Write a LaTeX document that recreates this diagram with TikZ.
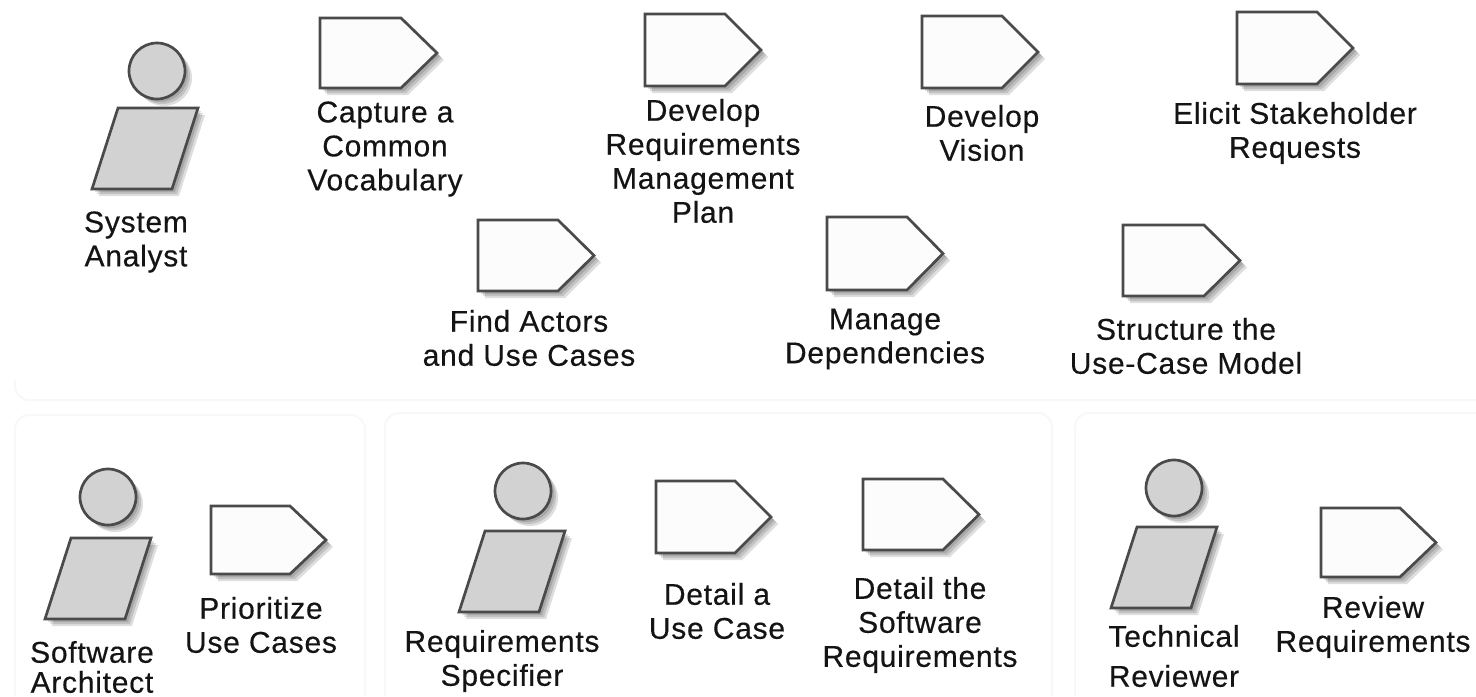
\documentclass[tikz,border=0pt]{standalone}
\usepackage{fontspec}
\setmainfont{Liberation Sans}
\definecolor{figfill}{HTML}{D2D2D2}
\definecolor{figline}{HTML}{4A4A4A}
\definecolor{taskfill}{HTML}{FCFCFC}
\definecolor{panelline}{HTML}{F8F8F8}
\tikzset{
  x=0.5pt,y=-0.5pt,
  figshape/.style={draw=figline,line width=1.35pt,fill=figfill,line join=miter},
  taskshape/.style={draw=figline,line width=1.35pt,fill=taskfill,line join=miter},
  softshadow/.style={fill=black,draw=none,fill opacity=0.13},
  panel/.style={draw=panelline,line width=1pt,rounded corners=7pt},
  lbl/.style={align=center,font=\fontsize{15}{17}\selectfont\addfontfeature{LetterSpace=2.5,FakeBold=0.4},text=black!92,inner sep=0pt,anchor=center},
  lblnarrow/.style={lbl,font=\fontsize{15}{15}\selectfont\addfontfeature{LetterSpace=2.5,FakeBold=0.4}},
  lblwide/.style={lbl,font=\fontsize{15}{20}\selectfont\addfontfeature{LetterSpace=2.5,FakeBold=0.4}},
}
% #1 name, #2 head x, #3 head y, #4 top-left x, #5 top y (parallelogram width 80, height 82, slant 26)
\newcommand{\actorfig}[5]{%
  \foreach \d in {3,5,7}{
    \fill[softshadow] ({#2+\d},{#3+\d}) circle[radius=28];
    \fill[softshadow] ({#4+\d},{#5+\d}) -- ({#4+80+\d},{#5+\d}) -- ({#4+54+\d},{#5+81+\d}) -- ({#4-26+\d},{#5+81+\d}) -- cycle;
  }
  \draw[figshape] (#2,#3) circle[radius=28];
  \draw[figshape] (#4,#5) -- ({#4+80},#5) -- ({#4+54},{#5+81}) -- ({#4-26},{#5+81}) -- cycle;
  \coordinate (#1) at (#2,#3);
}
% #1 name, #2 left, #3 top, #4 bottom, #5 tip x
\newcommand{\taskfig}[5]{%
  \foreach \d in {3,5,7}{
    \fill[softshadow] ({#2+\d},{#3+\d}) -- ({#5-36+\d},{#3+\d}) -- ({#5+\d},{(#3+#4)/2+\d}) -- ({#5-36+\d},{#4+\d}) -- ({#2+\d},{#4+\d}) -- cycle;
  }
  \draw[taskshape] (#2,#3) -- ({#5-36},#3) -- (#5,{(#3+#4)/2}) -- ({#5-36},#4) -- (#2,#4) -- cycle;
  \coordinate (#1) at (#2,#3);
}
\begin{document}
\begin{tikzpicture}
\useasboundingbox (0,0) rectangle (1476,696);
\fill[white] (0,0) rectangle (1476,696);
% panels
\draw[panel] (15,380) |- (1476,400);
\draw[panel] (15,696) |- (365,415) -- (365,696);
\draw[panel] (385,696) |- (1052,413) -- (1052,696);
\draw[panel] (1075,696) |- (1490,413);
% actors
\actorfig{a1}{157}{71}{118}{108}
\actorfig{a2}{108}{497}{71}{538}
\actorfig{a3}{523}{491}{485}{531}
\actorfig{a4}{1174}{488}{1137}{527}
% tasks
\taskfig{t1}{320}{18}{88}{437}
\taskfig{t2}{645}{14}{86}{761}
\taskfig{t3}{922}{16}{88}{1038}
\taskfig{t4}{1237}{12}{84}{1353}
\taskfig{t5}{478}{220}{291}{594}
\taskfig{t6}{827}{217}{290}{943}
\taskfig{t7}{1123}{225}{296}{1240}
\taskfig{t8}{211}{506}{574}{326}
\taskfig{t9}{656}{481}{553}{771}
\taskfig{t10}{863}{479}{550}{979}
\taskfig{t11}{1321}{508}{577}{1436}
% labels
\node[lbl] (la1) at (136,242) {System\\Analyst};
\node[lblnarrow] (la2) at (92,667) {Software\\Architect};
\node[lbl] (la3) at (502,661) {Requirements\\Specifier};
\node[lblwide] (la4) at (1174,656) {Technical\\Reviewer};
\node[lbl] (l1) at (385,149) {Capture a\\Common\\Vocabulary};
\node[lbl] (l2) at (703,161) {Develop\\Requirements\\Management\\Plan};
\node[lbl] (l3) at (982,133) {Develop\\Vision};
\node[lbl] (l4) at (1295,133) {Elicit Stakeholder\\Requests};
\node[lbl] (l5) at (529,338) {Find Actors\\and Use Cases};
\node[lbl] (l6) at (885,339) {Manage\\Dependencies};
\node[lbl] (l7) at (1186,346) {Structure the\\Use-Case Model};
\node[lbl] (l8) at (261,625) {Prioritize\\Use Cases};
\node[lbl] (l9) at (717,611) {Detail a\\Use Case};
\node[lbl] (l10) at (920,625) {Detail the\\Software\\Requirements};
\node[lbl] (l11) at (1373,627) {Review\\Requirements};
\end{tikzpicture}
\end{document}
